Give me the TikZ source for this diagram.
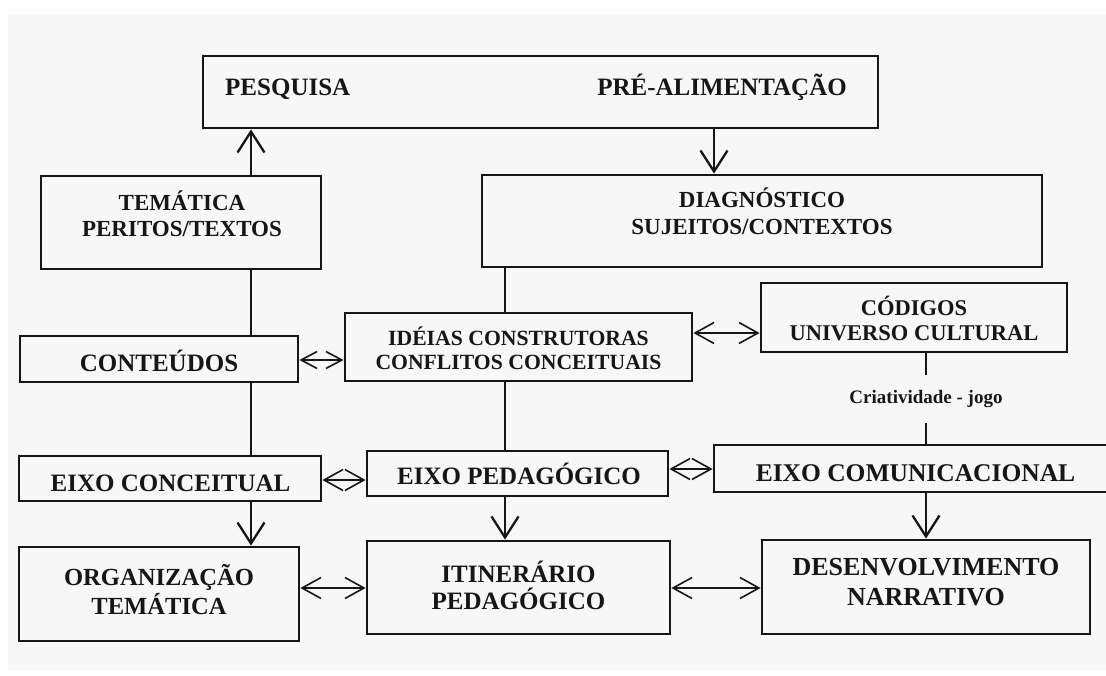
\documentclass[tikz,border=0pt]{standalone}
\usepackage{fontspec}
\setmainfont{Liberation Serif}
\usetikzlibrary{arrows.meta}
\definecolor{paper}{RGB}{247,247,247}
\definecolor{ink}{RGB}{22,22,22}
\tikzset{
  box/.style 2 args={draw=ink, line width=2.8pt, minimum width=#1pt, minimum height=#2pt, inner sep=0pt},
  lbl/.style={font=\fontsize{#1}{#1}\selectfont\bfseries, inner sep=0pt, text=ink, anchor=base},
  bigV/.tip={Straight Barb[length=21pt,width=27pt]},
  midV/.tip={Straight Barb[length=19pt,width=21pt]},
  smallV/.tip={Straight Barb[length=16pt,width=17pt]},
  link/.style={draw=ink, line width=2.3pt},
  dbl/.style={draw=ink, line width=1.6pt, {midV}-{midV}},
  dbls/.style={draw=ink, line width=1.6pt, {smallV}-{smallV}}
}
\begin{document}
\begin{tikzpicture}[x=1pt,y=-1pt]
\useasboundingbox (0,0) rectangle (1106,675);
\clip (0,0) rectangle (1106,675);
\fill[white] (0,0) rectangle (1106,675);
\fill[paper] (8,14) rectangle (1106,670);

% boxes
\node[box={675}{72}] (top) at (540.5,92) {};
\node[box={280}{93}] (tem) at (181,222.5) {};
\node[box={560}{92}] (diag) at (762,221) {};
\node[box={278}{46}] (cont) at (159,359) {};
\node[box={347}{68}] (ideias) at (518.5,347) {};
\node[box={306}{69}] (cod) at (914,317.5) {};
\node[box={302}{45}] (econc) at (170,478.5) {};
\node[box={301}{45}] (eped) at (517.5,473.5) {};
\node[box={402}{47}] (ecom) at (915,468.5) {};
\node[box={280}{94}] (org) at (159,594) {};
\node[box={303}{93}] (itin) at (518.5,587.5) {};
\node[box={328}{94}] (desenv) at (926,587) {};

% texts
\node[lbl=25, anchor=base west] (pesq) at (225,95) {PESQUISA};
\node[lbl=25, anchor=base east] (prea) at (847,95) {PRÉ-ALIMENTAÇÃO};
\node[lbl=23] (tem1) at (182,210) {TEMÁTICA};
\node[lbl=23] (tem2) at (182,236) {PERITOS/TEXTOS};
\node[lbl=23] (diag1) at (762,207) {DIAGNÓSTICO};
\node[lbl=23] (diag2) at (762,234) {SUJEITOS/CONTEXTOS};
\node[lbl=25] (contt) at (159,371) {CONTEÚDOS};
\node[lbl=21.7] (ideias1) at (518.5,345) {IDÉIAS CONSTRUTORAS};
\node[lbl=21.7] (ideias2) at (518.5,369) {CONFLITOS CONCEITUAIS};
\node[lbl=22.5] (cod1) at (914,315.5) {CÓDIGOS};
\node[lbl=22.5] (cod2) at (914,340.5) {UNIVERSO CULTURAL};
\node[lbl=25] (econct) at (170.5,491) {EIXO CONCEITUAL};
\node[lbl=25] (epedt) at (519,484) {EIXO PEDAGÓGICO};
\node[lbl=25.5] (ecomt) at (915.5,481) {EIXO COMUNICACIONAL};
\node[lbl=24.6] (org1) at (159,585) {ORGANIZAÇÃO};
\node[lbl=24.6] (org2) at (159,614) {TEMÁTICA};
\node[lbl=25] (itin1) at (518.5,582) {ITINERÁRIO};
\node[lbl=25] (itin2) at (518.5,609) {PEDAGÓGICO};
\node[lbl=26] (desenv1) at (926,575) {DESENVOLVIMENTO};
\node[lbl=26] (desenv2) at (926,605) {NARRATIVO};
\node[font=\fontsize{19}{19}\selectfont\bfseries, text=ink, inner sep=0pt, minimum height=48pt] (crt) at (926,399) {Criatividade - jogo};

% reference coordinates for connector positions
\coordinate (xL) at (251,0);
\coordinate (xM) at (505,0);
\coordinate (xR) at (714,0);
\coordinate (xC) at (926,0);
\coordinate (y1) at (0,360);
\coordinate (y2) at (0,333);
\coordinate (y3) at (0,480);
\coordinate (y4) at (0,469);
\coordinate (y5) at (0,588);

% vertical connectors
\draw[link, -{bigV}] (tem.north -| xL) -- (top.south -| xL);
\draw[link, -{bigV}] (top.south -| xR) -- (diag.north -| xR);
\draw[link] (tem.south -| xL) -- (cont.north -| xL);
\draw[link] (diag.south -| xM) -- (ideias.north -| xM);
\draw[link] (cont.south -| xL) -- (econc.north -| xL);
\draw[link] (ideias.south -| xM) -- (eped.north -| xM);
\draw[link] (cod.south -| xC) -- (crt.north);
\draw[link] (crt.south) -- (ecom.north -| xC);
\draw[link, -{bigV}] (econc.south -| xL) -- (org.north -| xL);
\draw[link, -{bigV}] (eped.south -| xM) -- (itin.north -| xM);
\draw[link, -{bigV}] (ecom.south -| xC) -- (desenv.north -| xC);

% horizontal double arrows
\draw[dbls] (cont.east |- y1) -- (ideias.west |- y1);
\draw[dbl] (ideias.east |- y2) -- (cod.west |- y2);
\draw[dbl] (econc.east |- y3) -- (eped.west |- y3);
\draw[dbl] (eped.east |- y4) -- (ecom.west |- y4);
\draw[dbl] (org.east |- y5) -- (itin.west |- y5);
\draw[dbl] (itin.east |- y5) -- (desenv.west |- y5);
\end{tikzpicture}
\end{document}
